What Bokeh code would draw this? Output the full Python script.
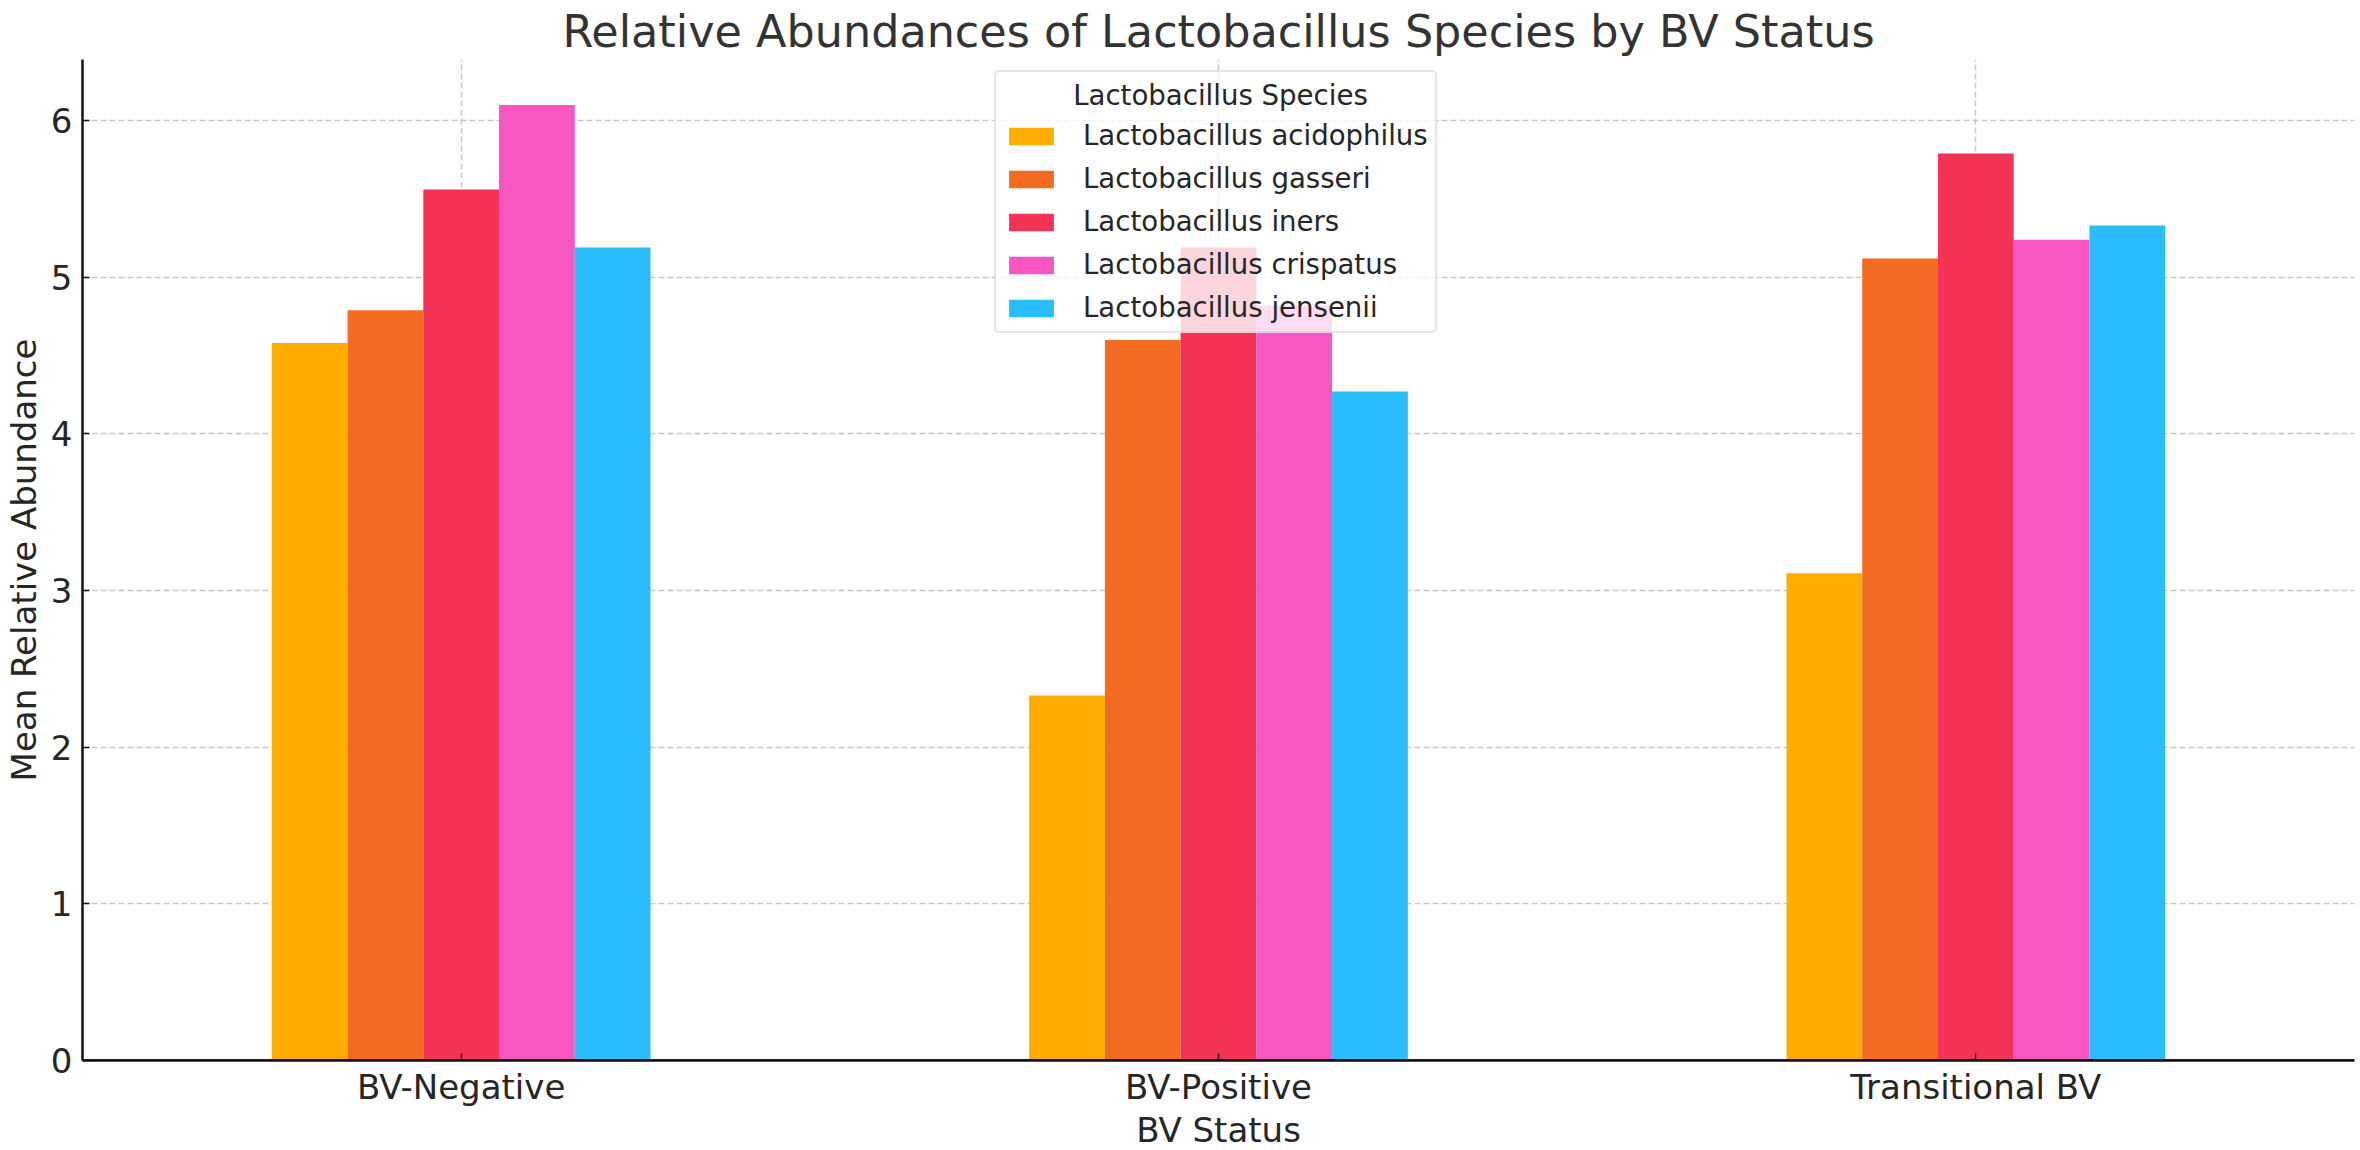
from bokeh.plotting import figure
from bokeh.models import ColumnDataSource, FactorRange, Range1d, Legend, LegendItem, Span
from bokeh.transform import dodge
from bokeh.embed import file_html
from bokeh.resources import INLINE

statuses = ["BV-Negative", "BV-Positive", "Transitional BV"]
species = ["Lactobacillus acidophilus", "Lactobacillus gasseri", "Lactobacillus iners",
           "Lactobacillus crispatus", "Lactobacillus jensenii"]
acidophilus = [4.58, 2.33, 3.11]
gasseri = [4.79, 4.60, 5.12]
iners = [5.56, 5.19, 5.79]
crispatus = [6.10, 4.82, 5.24]
jensenii = [5.19, 4.27, 5.33]
colors = ["#FFAE00", "#F26B21", "#F43255", "#F857C1", "#29BDFD"]
y_ticks = [0, 1, 2, 3, 4, 5, 6]

FONT = "DejaVu Sans"
TXT = "#262626"

src = ColumnDataSource(dict(status=statuses, s0=acidophilus, s1=gasseri, s2=iners,
                            s3=crispatus, s4=jensenii))

p = figure(x_range=FactorRange(*statuses, range_padding=0), y_range=Range1d(0, 6.39),
           frame_width=2272, frame_height=1001,
           output_backend="svg", toolbar_location=None,
           min_border_left=75, min_border_right=3, min_border_top=56, min_border_bottom=6)

offsets = [-0.2, -0.1, 0.0, 0.1, 0.2]
items = []
for i, (name, col) in enumerate(zip(species, colors)):
    r = p.vbar(x=dodge("status", offsets[i], range=p.x_range), top="s%d" % i, width=0.1,
               source=src, fill_color=col, line_color=None)
    items.append(LegendItem(label=name, renderers=[r]))

p.title.text = "Relative Abundances of Lactobacillus Species by BV Status"
p.title.align = "center"
p.title.text_font = FONT
p.title.text_font_size = "44.5px"
p.title.text_font_style = "normal"
p.title.text_color = "#333333"
p.title.standoff = 6

p.xaxis.axis_label = "BV Status"
p.yaxis.axis_label = "Mean Relative Abundance"
for ax in (p.xaxis, p.yaxis):
    ax.axis_label_text_font = FONT
    ax.axis_label_text_font_size = "34px"
    ax.axis_label_text_font_style = "normal"
    ax.axis_label_text_color = TXT
    ax.major_label_text_font = FONT
    ax.major_label_text_font_size = "34px"
    ax.major_label_text_color = TXT
    ax.axis_line_color = "#111111"
    ax.axis_line_width = 2.5
    ax.major_tick_in = 7
    ax.major_tick_out = 0
    ax.major_tick_line_color = "#111111"
    ax.major_tick_line_width = 1.5
    ax.minor_tick_line_color = None
p.xaxis.major_label_standoff = 6
p.yaxis.major_label_standoff = 10
p.xaxis.axis_label_standoff = 0
p.yaxis.axis_label_standoff = 4
p.yaxis.ticker = y_ticks

for g in (p.xgrid, p.ygrid):
    g.grid_line_color = "#bbbbbb"
    g.grid_line_dash = "6 3"
    g.grid_line_width = 1.5
    g.grid_line_alpha = 0.8

p.outline_line_color = None
p.add_layout(Span(location=y_ticks[0], dimension="width", line_color="#111111", line_width=2.5))

legend = Legend(items=items, location=(912, 727))
legend.title = "\u00a0" * 8 + "Lactobacillus Species"
legend.title_text_font = FONT
legend.title_text_font_size = "27.6px"
legend.title_text_font_style = "normal"
legend.title_text_color = TXT
legend.label_text_font = FONT
legend.label_text_font_size = "27.6px"
legend.label_text_color = TXT
legend.glyph_width = 56
legend.glyph_height = 22
legend.label_standoff = 24
legend.spacing = 10
legend.padding = 7
legend.margin = 0
legend.border_line_color = "#cccccc"
legend.border_line_width = 2
legend.border_radius = 5
legend.background_fill_color = "white"
legend.background_fill_alpha = 0.8
legend.title_standoff = 7
p.add_layout(legend, "center")

open("out.html", "w").write(file_html(p, INLINE))
